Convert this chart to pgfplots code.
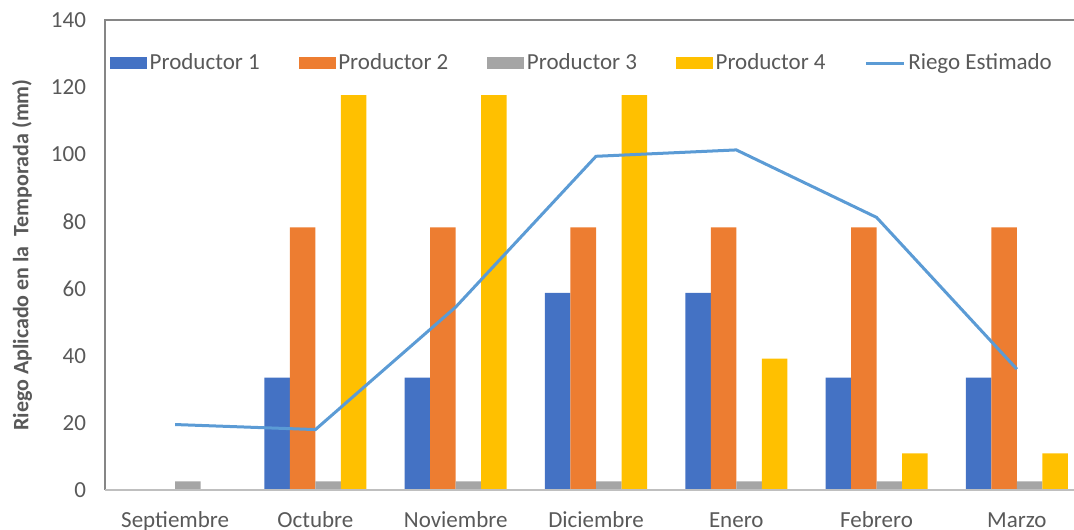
\documentclass[border=0pt]{standalone}
\usepackage{fontspec}
\setmainfont{Carlito}
\usepackage{pgfplots}
\pgfplotsset{compat=1.18}

\definecolor{pone}{HTML}{4472C4}
\definecolor{ptwo}{HTML}{ED7D31}
\definecolor{pthree}{HTML}{A5A5A5}
\definecolor{pfour}{HTML}{FFC000}
\definecolor{riego}{HTML}{5B9BD5}
\definecolor{txt}{HTML}{595959}
\definecolor{frame}{HTML}{868686}
\definecolor{base}{HTML}{BFBFBF}

\pgfplotsset{
  barleg/.style={legend image code/.code={\fill[##1] (0pt,-3.2pt) rectangle (18.5pt,3.2pt);}},
  lineleg/.style={legend image code/.code={\draw[##1] (0pt,0pt) -- (19pt,0pt);}},
  bars/.style={ybar, bar width=12.75pt, draw=none, fill=#1, barleg},
}

\begin{document}
\begin{tikzpicture}
\begin{axis}[
  scale only axis,
  width=491pt, height=235pt,
  xmin=-0.5, xmax=6.5,
  ymin=0, ymax=140,
  ytick={0,20,...,140},
  xtick={0,...,6},
  xticklabels={Septiembre,Octubre,Noviembre,Diciembre,Enero,Febrero,Marzo},
  axis line style={draw=none},
  major tick length=0pt,
  tick label style={font=\fontsize{11.5}{13}\selectfont, text=txt},
  /pgf/number format/assume math mode=true,
  yticklabel style={xshift=-6pt},
  xticklabel style={yshift=-7pt, text height=8pt, text depth=2.5pt},
  ylabel={Riego Aplicado en la\ \ Temporada (mm)},
  ylabel style={font=\bfseries\fontsize{11}{13}\selectfont, text=txt,
    at={(rel axis cs:-0.0845,0.5)}, anchor=center},
  legend columns=5,
  legend style={draw=none, fill=none, inner sep=0pt, outer sep=0pt,
    at={(0.005,0.9085)}, anchor=west,
    nodes={inner sep=1.4pt, text=txt, font=\fontsize{11.5}{13}\selectfont},
    /tikz/every even column/.append style={column sep=18pt}},
  legend cell align=left,
  clip=false,
]
\addplot[bars=pone, bar shift=-19.125pt] coordinates {(0,0) (1,33.5) (2,33.5) (3,58.7) (4,58.7) (5,33.5) (6,33.5)};
\addlegendentry{Productor 1}
\addplot[bars=ptwo, bar shift=-6.375pt] coordinates {(0,0) (1,78.2) (2,78.2) (3,78.2) (4,78.2) (5,78.2) (6,78.2)};
\addlegendentry{Productor 2}
\addplot[bars=pthree, bar shift=6.375pt] coordinates {(0,2.6) (1,2.6) (2,2.6) (3,2.6) (4,2.6) (5,2.6) (6,2.6)};
\addlegendentry{Productor 3}
\addplot[bars=pfour, bar shift=19.125pt] coordinates {(0,0) (1,117.6) (2,117.6) (3,117.6) (4,39.1) (5,10.9) (6,10.9)};
\addlegendentry{Productor 4}
\addplot[sharp plot, no markers, color=riego, line width=1.5pt, lineleg]
  coordinates {(0,19.5) (1,18.0) (2,54.5) (3,99.4) (4,101.3) (5,81.2) (6,36.0)};
\addlegendentry{Riego Estimado}
\draw[frame, line width=0.9pt] (rel axis cs:0,0) -- (rel axis cs:0,1) -- (rel axis cs:1,1);
\draw[base, line width=1pt] (rel axis cs:0,0) -- (rel axis cs:1,0);
\end{axis}
\pgfresetboundingbox
\path (-52.5pt,-19.5pt) rectangle (484.5pt,245pt);
\end{tikzpicture}
\end{document}
